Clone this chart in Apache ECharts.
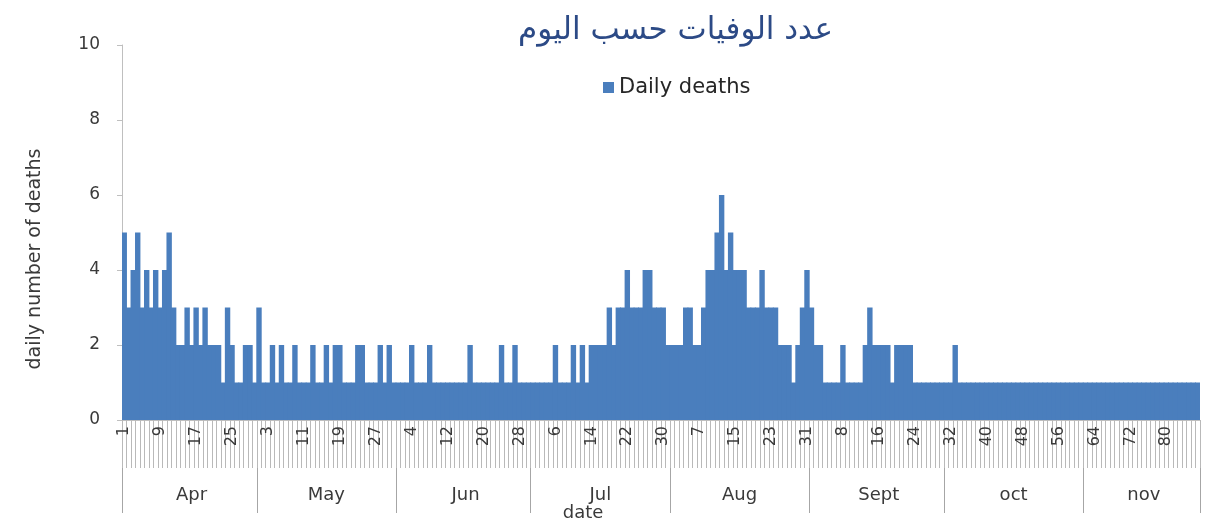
<!DOCTYPE html>
<html>
<head>
<meta charset="utf-8">
<script src="https://cdn.jsdelivr.net/npm/echarts@6/dist/echarts.min.js"></script>
<style>
html,body{margin:0;padding:0;background:#fff;}
#chart{width:1210px;height:525px;}
</style>
</head>
<body>
<div id="chart"></div>
<script>
// ---- data ----
const titleText = 'عدد الوفيات حسب اليوم';
const seriesName = 'Daily deaths';
const monthNames = ['Apr', 'May', 'Jun', 'Jul', 'Aug', 'Sept', 'oct', 'nov'];
const monthLengths = [30, 31, 30, 31, 31, 30, 31, 26];
// day-number runs as printed on the axis (after Aug the count keeps going)
const dayLabelRuns = [[1, 30], [1, 31], [1, 30], [1, 31], [1, 31], [1, 87]];
const dailyDeaths = [
  5,3,4,5,3,4,3,4,3,4,
  5,3,2,2,3,2,3,2,3,2,
  2,2,1,3,2,1,1,2,2,1,
  3,1,1,2,1,2,1,1,2,1,
  1,1,2,1,1,2,1,2,2,1,
  1,1,2,2,1,1,1,2,1,2,
  1,1,1,1,2,1,1,1,2,1,
  1,1,1,1,1,1,1,2,1,1,
  1,1,1,1,2,1,1,2,1,1,
  1,1,1,1,1,1,2,1,1,1,
  2,1,2,1,2,2,2,2,3,2,
  3,3,4,3,3,3,4,4,3,3,
  3,2,2,2,2,3,3,2,2,3,
  4,4,5,6,4,5,4,4,4,3,
  3,3,4,3,3,3,2,2,2,1,
  2,3,4,3,2,2,1,1,1,1,
  2,1,1,1,1,2,3,2,2,2,
  2,1,2,2,2,2,1,1,1,1,
  1,1,1,1,1,2,1,1,1,1,
  1,1,1,1,1,1,1,1,1,1,
  1,1,1,1,1,1,1,1,1,1,
  1,1,1,1,1,1,1,1,1,1,
  1,1,1,1,1,1,1,1,1,1,
  1,1,1,1,1,1,1,1,1,1
];
const yTicks = [0, 2, 4, 6, 8, 10];

// ---- build categories ----
const dayLabels = [];
dayLabelRuns.forEach(function (r) { for (let d = r[0]; d <= r[1]; d++) dayLabels.push(String(d)); });
const monthOfIndex = [];
const monthStart = new Set();
const monthMid = new Set();
let acc = 0;
monthLengths.forEach(function (len, m) {
  monthStart.add(acc);
  monthMid.add(acc + Math.floor(len / 2));
  for (let k = 0; k < len; k++) monthOfIndex.push(monthNames[m]);
  acc += len;
});

const FONT = '"DejaVu Sans", "Noto Sans", sans-serif';
const BAR = '#4a7ebd';
const chart = echarts.init(document.getElementById('chart'), null, {renderer: 'canvas'});
chart.setOption({
  animation: false,
  backgroundColor: '#ffffff',
  title: {
    text: titleText,
    left: 513,
    top: 10,
    textStyle: {fontSize: 31, fontWeight: 'normal', color: '#2c4a86', fontFamily: '"DejaVu Sans", sans-serif'}
  },
  legend: {
    data: [seriesName],
    left: 598,
    top: 72,
    icon: 'rect',
    itemWidth: 11,
    itemHeight: 11,
    itemGap: 6,
    textStyle: {fontSize: 21, color: '#262626', fontFamily: FONT}
  },
  grid: {left: 122, right: 10, top: 45, bottom: 105, containLabel: false},
  xAxis: [
    {
      type: 'category',
      data: dayLabels,
      boundaryGap: true,
      axisLine: {show: true, lineStyle: {color: '#bfbfbf', width: 1}},
      axisTick: {show: true, interval: 0, length: 48, lineStyle: {color: '#b9b9b9', width: 1}},
      axisLabel: {interval: 7, rotate: 90, fontSize: 16, color: '#3a3a3a', margin: 6, fontFamily: FONT},
      splitLine: {show: false}
    },
    {
      type: 'category',
      data: dayLabels,
      position: 'bottom',
      offset: 48,
      boundaryGap: true,
      axisLine: {show: false},
      axisTick: {show: true, interval: function (i) { return monthStart.has(i); }, length: 45, lineStyle: {color: '#a6a6a6', width: 1}},
      axisLabel: {
        interval: function (i) { return monthMid.has(i); },
        formatter: function (v, i) { return monthOfIndex[i]; },
        fontSize: 18, color: '#3a3a3a', margin: 18, fontFamily: FONT
      },
      splitLine: {show: false}
    }
  ],
  yAxis: {
    type: 'value',
    min: yTicks[0],
    max: yTicks[yTicks.length - 1],
    interval: 2,
    axisLine: {show: true, lineStyle: {color: '#bfbfbf', width: 1}},
    axisTick: {show: true, length: 5, lineStyle: {color: '#bfbfbf'}},
    axisLabel: {fontSize: 17, color: '#3a3a3a', margin: 22, fontFamily: FONT},
    splitLine: {show: false}
  },
  graphic: [
    {
      type: 'text',
      x: 35, y: 259,
      rotation: Math.PI / 2,
      style: {text: 'daily number of deaths', font: '19px ' + FONT, fill: '#3a3a3a', align: 'center', verticalAlign: 'middle'}
    },
    {
      type: 'text',
      x: 583, y: 513,
      style: {text: 'date', font: '18px ' + FONT, fill: '#3a3a3a', align: 'center', verticalAlign: 'middle'}
    }
  ],
  series: [{
    name: seriesName,
    type: 'bar',
    xAxisIndex: 0,
    data: dailyDeaths,
    barWidth: 5.4,
    itemStyle: {color: BAR},
    emphasis: {disabled: true}
  }]
});
</script>
</body>
</html>
